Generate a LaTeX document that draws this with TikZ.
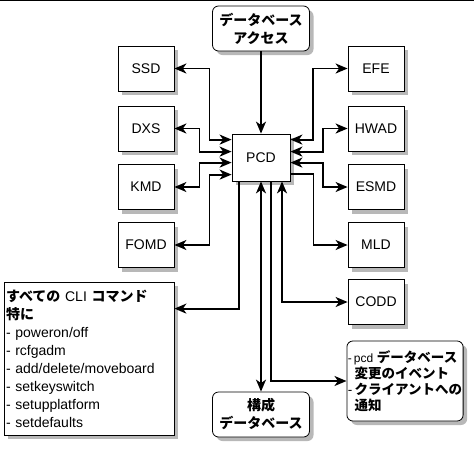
\documentclass[tikz,border=0pt]{standalone}
\usepackage{fontspec}
\setmainfont{Liberation Sans}
\newfontfamily\jpfont{Noto Sans CJK JP}
\newcommand{\jb}[1]{{\jpfont\bfseries #1}}
\usetikzlibrary{positioning, arrows.meta, calc, shadows}

\begin{document}
\begin{tikzpicture}[
  x=1pt, y=-1pt,
  every node/.style={font=\fontsize{14}{18}\selectfont, align=center},
  box/.style={rectangle, draw, line width=0.8pt, fill=white, inner sep=2pt,
    drop shadow={shadow xshift=4pt, shadow yshift=-4pt, fill=black!28, opacity=1}},
  unit/.style={box, minimum width=56pt, minimum height=45pt},
  dbbox/.style={box, rounded corners=6pt, minimum width=97pt, minimum height=45pt},
  link/.style={line width=1.8pt, -{Stealth[length=12pt, width=10pt, inset=3.5pt]}},
  bilink/.style={line width=1.8pt, {Stealth[length=12pt, width=10pt, inset=3.5pt]}-{Stealth[length=12pt, width=10pt, inset=3.5pt]}},
]
  \useasboundingbox (0,0) rectangle (474,448);
  \draw[line width=1pt] (0,0.5) -- (474,0.5);

  % centre and the units round it
  \node[box, minimum width=58pt, minimum height=47pt] (pcd) at (261,157.5) {PCD};
  \node[dbbox] (dbacc) at (261,28.5) {\jb{データベース}\\\jb{アクセス}};
  \node[unit] (ssd) at (146,68.5) {SSD};
  \node[unit] (efe) at (376,68.5) {EFE};
  \node[unit] (dxs) at (146,128.5) {DXS};
  \node[unit] (hwad) at (376,128.5) {HWAD};
  \node[unit] (kmd) at (146,187) {KMD};
  \node[unit] (esmd) at (376,187) {ESMD};
  \node[unit] (fomd) at (146,245) {FOMD};
  \node[unit] (mld) at (376,245) {MLD};
  \node[unit] (codd) at (376,302) {CODD};
  \node[box, align=left, minimum width=170pt, minimum height=153pt, text width=166pt] (cli) at (89,358.5)
    {\jb{すべての} CLI \jb{コマンド}\\
     \jb{特に}\\
     - poweron/off\\
     - rcfgadm\\
     - add/delete/moveboard\\
     - setkeyswitch\\
     - setupplatform\\
     - setdefaults};
  \node[dbbox, align=left, minimum width=114pt, minimum height=80pt, inner sep=1pt,
    font=\fontsize{13.5}{16}\selectfont] (notify) at (405,381)
    {{\fontsize{12}{16}\selectfont -\,pcd} \jb{データベース}\\
     \hphantom{-}\,\jb{変更のイベント}\\
     -\,\jb{クライアントへの}\\
     \hphantom{-}\,\jb{通知}};
  \node[dbbox] (cfgdb) at (261,414.5) {\jb{構成}\\\jb{データベース}};

  % connectors
  \draw[link] (dbacc.south) -- (pcd.north);
  \draw[bilink] (ssd.east) -- ++(35,0) |- ([yshift=-6pt]pcd.north west);
  \draw[bilink] (dxs.east) -- ++(25,0) |- ([yshift=-18pt]pcd.north west);
  \draw[bilink] (kmd.east) -- ++(25,0) |- ([yshift=-29pt]pcd.north west);
  \draw[bilink] (fomd.east) -- ++(35,0) |- ([yshift=-41pt]pcd.north west);
  \draw[bilink] (efe.west) -- ++(-35,0) |- ([yshift=-6pt]pcd.north east);
  \draw[bilink] (hwad.west) -- ++(-25,0) |- ([yshift=-18pt]pcd.north east);
  \draw[bilink] (esmd.west) -- ++(-25,0) |- ([yshift=-29pt]pcd.north east);
  \draw[link] ([yshift=-40pt]pcd.north east) -- ++(23,0) |- (mld.west);
  \draw[link] ([xshift=-22pt]pcd.south) |- ([yshift=-27pt]cli.north east);
  \draw[bilink] (pcd.south) -- (cfgdb.north);
  \draw[link] ([xshift=10pt]pcd.south) |- (notify.west);
  \draw[bilink] ([xshift=21pt]pcd.south) |- (codd.west);
\end{tikzpicture}
\end{document}
